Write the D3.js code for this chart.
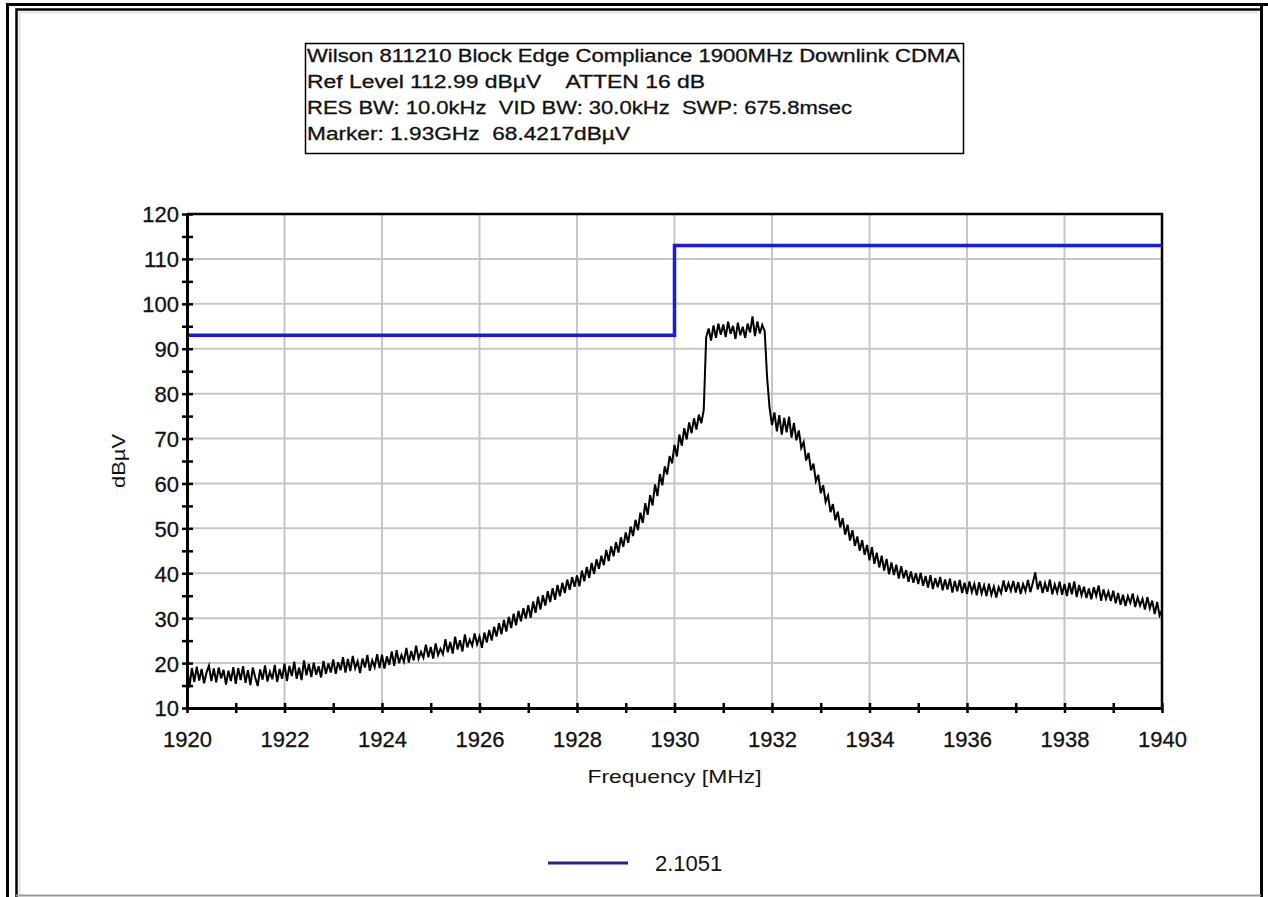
<!DOCTYPE html>
<html>
<head>
<meta charset="utf-8">
<script src="https://cdn.jsdelivr.net/npm/d3@7"></script>
<style>
  html, body { margin: 0; padding: 0; background: #fff; }
  svg { display: block; }
  text { font-family: "Liberation Sans", Arial, sans-serif; fill: #111; }
</style>
</head>
<body>
<svg id="chart" width="1268" height="897"></svg>
<script>
// Spectrum analyzer header
const headerLines = [
  "Wilson 811210 Block Edge Compliance 1900MHz Downlink CDMA",
  "Ref Level 112.99 dB\u00b5V    ATTEN 16 dB",
  "RES BW: 10.0kHz  VID BW: 30.0kHz  SWP: 675.8msec",
  "Marker: 1.93GHz  68.4217dB\u00b5V"
];
const headerWidths = [653, 398, 545, 323];

// Axis ticks
const xTickLabels = [1920, 1922, 1924, 1926, 1928, 1930, 1932, 1934, 1936, 1938, 1940];
const xMinorTicks = [1920, 1921, 1922, 1923, 1924, 1925, 1926, 1927, 1928, 1929, 1930,
                     1931, 1932, 1933, 1934, 1935, 1936, 1937, 1938, 1939, 1940];
const yTickLabels = [10, 20, 30, 40, 50, 60, 70, 80, 90, 100, 110, 120];
const yMinorTicks = [10, 15, 20, 25, 30, 35, 40, 45, 50, 55, 60, 65, 70, 75, 80, 85, 90, 95, 100, 105, 110, 115, 120];

// Sweep span (MHz)
const sweepStart = 1920;
const sweepStop = 1940;

// Measured trace, dBµV, one row per MHz (0.05 MHz steps)
const traceLevels = [
  19.8, 14.6, 18.9, 15.8, 19.2, 16.1, 18.7, 15.5, 17.9, 19.4, 16.0, 18.8, 15.7, 19.0, 16.6, 18.5, 15.2, 18.3, 16.0, 19.1,
  15.4, 18.9, 16.2, 19.3, 15.6, 18.4, 15.1, 19.0, 16.8, 14.9, 18.6, 16.3, 19.5, 15.9, 18.1, 16.4, 19.6, 15.8, 18.7, 16.5,
  19.9, 16.0, 19.4, 17.1, 20.3, 16.5, 19.0, 16.2, 20.6, 17.3, 19.8, 16.9, 20.1, 17.4, 19.3, 16.8, 20.5, 17.6, 19.9, 17.9,
  20.8, 17.6, 20.2, 18.4, 21.3, 17.9, 20.9, 18.2, 21.6, 18.8, 20.4, 17.8, 21.0, 19.0, 21.8, 18.3, 20.6, 19.1, 22.0, 18.9,
  21.9, 18.8, 21.5, 19.6, 22.6, 19.4, 22.9, 20.0, 21.8, 20.3, 23.4, 20.1, 22.7, 20.6, 23.9, 21.0, 22.5, 21.2, 24.1, 21.3,
  23.6, 21.0, 24.4, 21.8, 23.2, 22.0, 25.3, 22.4, 24.7, 22.1, 25.9, 23.0, 25.1, 22.6, 26.4, 23.5, 25.2, 23.9, 26.6, 24.2,
  25.9, 23.4, 26.8, 24.6, 27.4, 25.0, 28.1, 25.9, 28.9, 26.4, 29.6, 27.0, 30.3, 27.8, 31.0, 28.4, 31.6, 29.3, 32.2, 29.9,
  32.9, 30.1, 33.7, 31.2, 34.8, 31.9, 35.1, 32.8, 36.0, 33.6, 36.7, 34.1, 37.4, 34.9, 37.9, 35.6, 38.6, 36.3, 39.1, 37.0,
  39.5, 37.1, 40.6, 38.2, 41.4, 39.0, 42.3, 39.9, 43.1, 41.0, 43.9, 41.8, 45.2, 42.7, 46.0, 43.8, 46.9, 44.6, 48.0, 45.9,
  49.1, 46.8, 50.4, 48.3, 51.9, 49.6, 53.5, 51.2, 55.6, 53.0, 57.4, 55.1, 59.8, 57.2, 62.1, 59.6, 63.8, 62.0, 66.1, 64.5,
  68.6, 66.0, 70.9, 68.4, 72.3, 69.8, 73.6, 71.2, 74.5, 72.0, 75.3, 73.4, 76.4, 92.6, 94.5, 91.8, 95.2, 92.4, 95.6, 93.1,
  95.4, 92.6, 96.0, 93.3, 95.1, 92.2, 95.8, 93.0, 94.9, 92.4, 95.6, 93.6, 97.2, 92.8, 96.1, 93.4, 95.3, 93.9, 83.5, 76.8,
  73.0, 75.8, 71.6, 75.2, 70.9, 74.6, 71.4, 74.9, 70.2, 73.5, 69.6, 71.8, 67.9, 69.2, 65.1, 66.8, 62.9, 64.4, 60.5, 61.9,
  57.8, 59.6, 55.9, 57.3, 53.6, 55.4, 51.8, 53.7, 50.2, 52.3, 48.6, 50.8, 47.3, 49.6, 46.1, 48.2, 45.0, 47.4, 44.1, 46.3,
  42.9, 45.8, 42.1, 44.6, 41.3, 43.9, 40.6, 43.2, 39.8, 42.4, 39.6, 41.9, 38.8, 41.6, 38.9, 40.7, 38.1, 40.4, 37.9, 40.0,
  37.6, 40.1, 37.2, 39.4, 36.8, 39.6, 36.5, 38.9, 36.9, 39.2, 36.2, 38.6, 36.4, 38.8, 35.7, 38.3, 36.0, 38.5, 35.6, 37.9,
  35.4, 38.2, 35.8, 37.6, 35.1, 38.0, 35.5, 37.3, 34.9, 37.7, 35.2, 37.0, 34.6, 36.9, 35.6, 38.4, 35.9, 37.8, 36.1, 38.3,
  35.7, 38.0, 35.4, 37.6, 36.0, 38.5, 35.8, 37.9, 40.2, 36.4, 38.3, 35.6, 37.8, 35.9, 38.6, 35.3, 37.5, 35.7, 38.1, 35.2,
  37.6, 34.9, 37.9, 35.3, 38.2, 34.7, 37.4, 35.1, 37.0, 34.5, 36.6, 34.2, 36.9, 35.0, 37.3, 33.9, 36.4, 34.3, 35.9, 33.8,
  36.1, 33.3, 35.6, 33.0, 35.2, 32.7, 34.9, 33.4, 35.5, 32.5, 34.6, 32.8, 34.3, 31.9, 34.7, 32.2, 33.9, 30.9, 33.6, 30.6,
  31.8
];

// Block-edge limit mask
const limitFreq = [1920, 1930, 1930, 1940];
const limitLevel = [92.99, 92.99, 112.99, 112.99];
const legendLabel = "2.1051";

const svg = d3.select("#chart");

// Window frame
const frame = svg.append("g").attr("fill", "none");
frame.append("path").attr("d", "M7.5,897 V4.5 H1268").attr("stroke", "#000").attr("stroke-width", 3);
frame.append("path").attr("d", "M16.5,897 V9.5 H1261").attr("stroke", "#000").attr("stroke-width", 2.5);
frame.append("path").attr("d", "M19.5,894 V12.5 H1258").attr("stroke", "#e2e2e2").attr("stroke-width", 2);
frame.append("path").attr("d", "M1261.5,4 V897").attr("stroke", "#000").attr("stroke-width", 3);
frame.append("path").attr("d", "M16,895.5 H1261").attr("stroke", "#9a9a9a").attr("stroke-width", 2);

// Header box
const header = svg.append("g");
header.append("rect")
  .attr("x", 305.5).attr("y", 43.5).attr("width", 658).attr("height", 110)
  .attr("fill", "#fff").attr("stroke", "#000").attr("stroke-width", 1.5);
header.selectAll("text").data(headerLines).join("text")
  .attr("x", 307)
  .attr("y", (d, i) => 62 + i * 26)
  .attr("font-size", 18)
  .style("white-space", "pre")
  .attr("stroke", "#111").attr("stroke-width", 0.3)
  .attr("textLength", (d, i) => headerWidths[i])
  .attr("lengthAdjust", "spacingAndGlyphs")
  .text(d => d);

// Scales
const x = d3.scaleLinear().domain([sweepStart, sweepStop]).range([187, 1162]);
const y = d3.scaleLinear().domain([10, 120]).range([708, 214]);

// Grid
const grid = svg.append("g").attr("stroke", "#c6c6c6").attr("stroke-width", 2);
grid.selectAll("line.v").data(xTickLabels.slice(1, -1)).join("line")
  .attr("class", "v")
  .attr("x1", d => x(d)).attr("x2", d => x(d))
  .attr("y1", y(120)).attr("y2", y(10));
grid.selectAll("line.h").data(yTickLabels.slice(1, -1)).join("line")
  .attr("class", "h")
  .attr("x1", x(1920)).attr("x2", x(1940))
  .attr("y1", d => y(d)).attr("y2", d => y(d));

// Plot border (top and right)
svg.append("path")
  .attr("d", `M${x(1920)},${y(120)} H${x(1940)} V${y(10)}`)
  .attr("fill", "none").attr("stroke", "#000").attr("stroke-width", 2.5);

// Limit mask
const limitData = limitFreq.map((f, i) => [f, limitLevel[i]]);
svg.append("path")
  .datum(limitData)
  .attr("fill", "none")
  .attr("stroke", "#1a1ae6")
  .attr("stroke-width", 3.5)
  .attr("d", d3.line().x(d => x(d[0])).y(d => y(d[1])));

// Trace
const step = (sweepStop - sweepStart) / (traceLevels.length - 1);
const traceData = traceLevels.map((v, i) => [sweepStart + i * step, v]);
svg.append("path")
  .datum(traceData)
  .attr("fill", "none")
  .attr("stroke", "#000")
  .attr("stroke-width", 2)
  .attr("stroke-linejoin", "miter")
  .attr("d", d3.line().x(d => x(d[0])).y(d => y(d[1])));

// Y axis
const yAxis = svg.append("g").attr("transform", `translate(${x(1920)},0)`)
  .call(d3.axisLeft(y).tickValues(yMinorTicks).tickSize(0)
    .tickFormat(d => (d % 10 === 0 ? d : "")));
yAxis.select(".domain").attr("stroke", "#000").attr("stroke-width", 3);
yAxis.selectAll(".tick line").attr("x1", -5).attr("x2", 6).attr("stroke", "#000").attr("stroke-width", 2.5);
yAxis.selectAll(".tick text").attr("x", -8).attr("dy", "0.36em")
  .attr("font-size", 22).attr("fill", "#111")
  .attr("stroke", "#111").attr("stroke-width", 0.3)
  .attr("font-family", "'Liberation Sans', Arial, sans-serif");

// X axis
const xAxis = svg.append("g").attr("transform", `translate(0,${y(10)})`)
  .call(d3.axisBottom(x).tickValues(xMinorTicks).tickSize(0)
    .tickFormat(d => (d % 2 === 0 ? d : "")));
xAxis.select(".domain").attr("stroke", "#000").attr("stroke-width", 3);
xAxis.selectAll(".tick line").attr("y1", -5).attr("y2", 5).attr("stroke", "#000").attr("stroke-width", 2.5);
xAxis.selectAll(".tick text").attr("y", 39).attr("dy", 0)
  .attr("font-size", 22).attr("fill", "#111")
  .attr("stroke", "#111").attr("stroke-width", 0.3)
  .attr("font-family", "'Liberation Sans', Arial, sans-serif");

// Axis titles
svg.append("text")
  .attr("x", (x(1920) + x(1940)) / 2)
  .attr("y", 783)
  .attr("text-anchor", "middle")
  .attr("font-size", 19)
  .attr("textLength", 174)
  .attr("lengthAdjust", "spacingAndGlyphs")
  .text("Frequency [MHz]");

svg.append("text")
  .attr("transform", `translate(125,${(y(10) + y(120)) / 2}) rotate(-90)`)
  .attr("text-anchor", "middle")
  .attr("font-size", 19)
  .attr("textLength", 54)
  .attr("lengthAdjust", "spacingAndGlyphs")
  .text("dB\u00b5V");

// Legend
const legend = svg.append("g");
legend.append("line")
  .attr("x1", 548).attr("x2", 628).attr("y1", 863).attr("y2", 863)
  .attr("stroke", "#25258c").attr("stroke-width", 3);
legend.append("text")
  .attr("x", 655).attr("y", 871)
  .attr("font-size", 22)
  .text(legendLabel);
</script>
</body>
</html>
